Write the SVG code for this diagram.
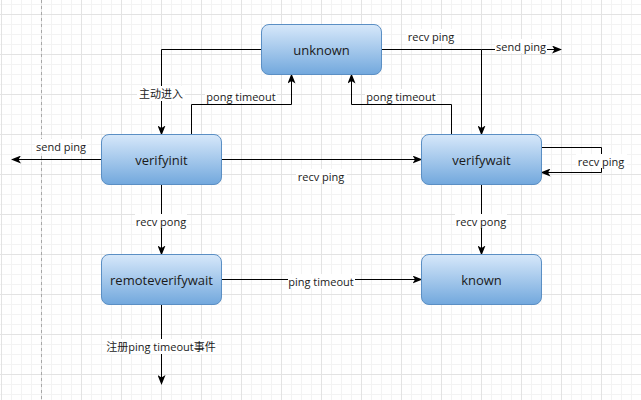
<svg xmlns="http://www.w3.org/2000/svg" width="641" height="400" viewBox="0 0 641 400">
<defs>
<pattern id="grid" patternUnits="userSpaceOnUse" x="1" y="14" width="40" height="40">
<path d="M10.5,0V40M20.5,0V40M30.5,0V40M0,10.5H40M0,20.5H40M0,30.5H40" stroke="#f3f3f3" stroke-width="1" fill="none"/>
<path d="M0.5,0V40M0,0.5H40" stroke="#e3e3e3" stroke-width="1" fill="none"/>
</pattern>
<linearGradient id="nodeFill" x1="0" y1="0" x2="0" y2="1">
<stop offset="0" stop-color="#d7e8fa"/>
<stop offset="1" stop-color="#72a8dd"/>
</linearGradient>
<marker id="arr" viewBox="0 0 10 8" refX="9" refY="4" markerWidth="10" markerHeight="8" markerUnits="userSpaceOnUse" orient="auto">
<path d="M0,0 L10,4 L0,8 L2.5,4 Z" fill="#000"/>
</marker>
<style>
.node rect{fill:url(#nodeFill);stroke:#5b8fc4;stroke-width:1}
.node text{font-family:"Open Sans","Noto Sans",sans-serif;font-size:13px;fill:#1a1a1a;text-anchor:middle;dominant-baseline:central}
.edge{fill:none;stroke:#000;stroke-width:1}
.arrow{marker-end:url(#arr)}
.lbl rect{fill:#fff}
.lbl text{font-family:"Open Sans","Noto Sans","Noto Sans CJK SC",sans-serif;font-size:11px;fill:#1a1a1a;text-anchor:middle;dominant-baseline:central}
</style>
</defs>
<rect width="641" height="400" fill="#fff"/>
<rect width="641" height="400" fill="url(#grid)"/>
<line x1="41.5" y1="0" x2="41.5" y2="400" stroke="#a8a8a8" stroke-width="1" stroke-dasharray="3,3"/>

<g id="connectors">
<path class="edge arrow" d="M261.5,49.5H161.5V134.5"/>
<path class="edge arrow" d="M191.5,134.5V104.5H291.5V74.5"/>
<path class="edge arrow" d="M451.5,134.5V104.5H351.5V74.5"/>
<path class="edge arrow" d="M381.5,49.5H481.5V134.5"/>
<path class="edge arrow" d="M481.5,49.5H561"/>
<path class="edge arrow" d="M101.5,159.5H12"/>
<path class="edge arrow" d="M221.5,159.5H421.5"/>
<path class="edge arrow" d="M541.5,147.5H601.5V172.5H541.5"/>
<path class="edge arrow" d="M161.5,184.5V254.5"/>
<path class="edge arrow" d="M481.5,184.5V254.5"/>
<path class="edge arrow" d="M221.5,279.5H421.5"/>
<path class="edge arrow" d="M161.5,304.5V384"/>
<g class="lbl">
<rect x="137" y="86" width="48" height="15"/><text x="161" y="93">主动进入</text>
<rect x="205" y="89" width="72" height="14"/><text x="241" y="96">pong timeout</text>
<rect x="365" y="89" width="72" height="14"/><text x="401" y="96">pong timeout</text>
<rect x="406" y="29" width="51" height="14"/><text x="431" y="36">recv ping</text>
<rect x="495" y="39" width="52" height="14"/><text x="521" y="46">send ping</text>
<rect x="35" y="139" width="52" height="14"/><text x="61" y="146">send ping</text>
<rect x="296" y="169" width="51" height="14"/><text x="321" y="176">recv ping</text>
<rect x="576" y="154" width="51" height="14"/><text x="601" y="161">recv ping</text>
<rect x="135" y="214" width="52" height="14"/><text x="161" y="221">recv pong</text>
<rect x="455" y="214" width="52" height="14"/><text x="481" y="221">recv pong</text>
<rect x="288" y="274" width="67" height="14"/><text x="321" y="281">ping timeout</text>
<rect x="106" y="339" width="111" height="15"/><text x="161" y="346">注册ping timeout事件</text>
</g>
</g>

<g id="unknown" class="node"><rect x="261.5" y="24.5" width="120" height="50" rx="7.5"/><text x="321.5" y="49.5">unknown</text></g>
<g id="verifyinit" class="node"><rect x="101.5" y="134.5" width="120" height="50" rx="7.5"/><text x="161.5" y="159.5">verifyinit</text></g>
<g id="verifywait" class="node"><rect x="421.5" y="134.5" width="120" height="50" rx="7.5"/><text x="481.5" y="159.5">verifywait</text></g>
<g id="remoteverifywait" class="node"><rect x="101.5" y="254.5" width="120" height="50" rx="7.5"/><text x="161.5" y="279.5">remoteverifywait</text></g>
<g id="known" class="node"><rect x="421.5" y="254.5" width="120" height="50" rx="7.5"/><text x="481.5" y="279.5">known</text></g>
</svg>
